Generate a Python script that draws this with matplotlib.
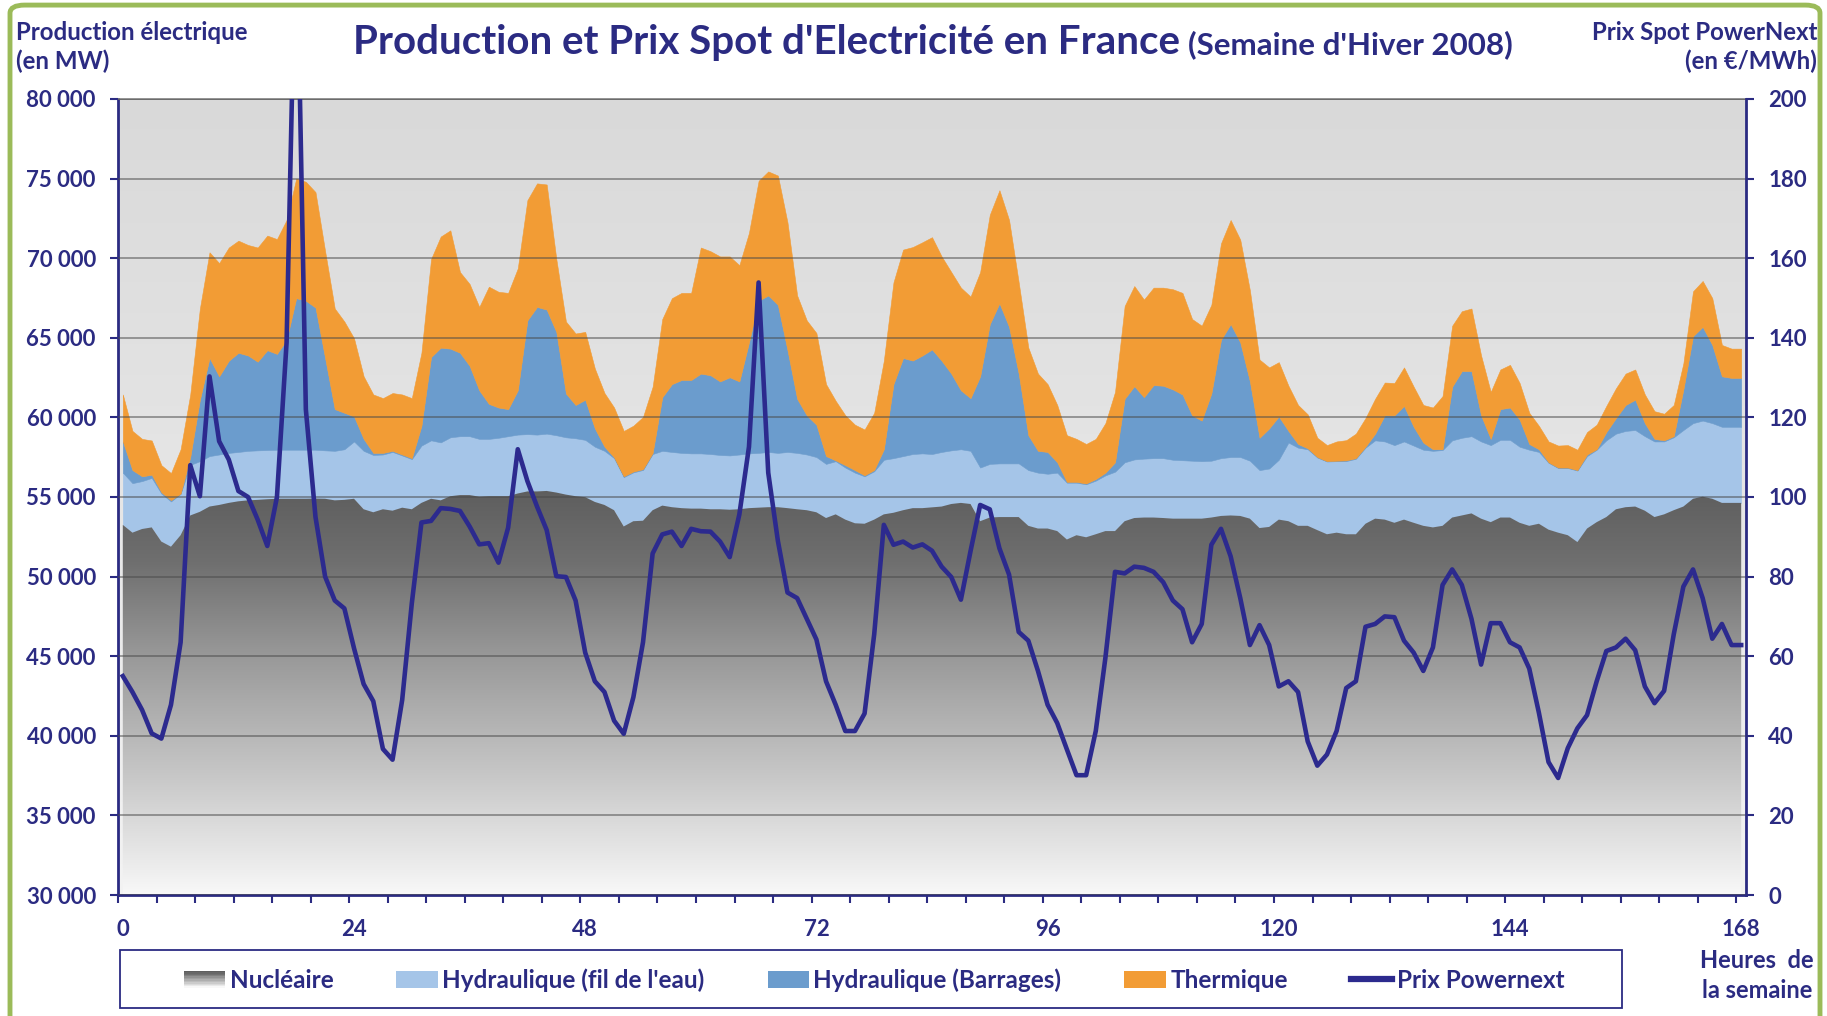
import numpy as np
import matplotlib
matplotlib.use("Agg")
import matplotlib.pyplot as plt
from matplotlib.colors import LinearSegmentedColormap
from matplotlib.patches import Rectangle, Patch, FancyBboxPatch
from matplotlib.lines import Line2D
from matplotlib.legend_handler import HandlerBase

# Production horaire (MW) par filière, semaine d'hiver 2008 (heures 0 à 168)
nucleaire = [
    53250, 52760, 52990, 53090, 52200, 51880, 52600, 53840, 54070, 54400,
    54500, 54630, 54730, 54790, 54820, 54860, 54890, 54890, 54890, 54890,
    54900, 54890, 54790, 54820, 54890, 54230, 54040, 54230, 54140, 54330,
    54230, 54630, 54890, 54790, 55050, 55120, 55120, 55020, 55050, 55050,
    55050, 55220, 55350, 55350, 55380, 55280, 55150, 55050, 54990, 54690,
    54500, 54170, 53150, 53480, 53510, 54170, 54460, 54360, 54300, 54270,
    54270, 54230, 54230, 54200, 54230, 54300, 54330, 54360, 54360, 54300,
    54230, 54170, 54040, 53680, 53910, 53580, 53350, 53320, 53580, 53910,
    54010, 54170, 54300, 54300, 54350, 54400, 54560, 54630, 54560, 53480,
    53710, 53740, 53740, 53740, 53190, 53020, 53020, 52860, 52330, 52600,
    52470, 52660, 52860, 52860, 53480, 53680, 53710, 53710, 53680, 53640,
    53640, 53640, 53640, 53710, 53810, 53840, 53810, 53640, 53050, 53120,
    53580, 53480, 53190, 53190, 52920, 52660, 52760, 52660, 52660, 53320,
    53640, 53580, 53380, 53580, 53380, 53190, 53090, 53190, 53710, 53840,
    53970, 53640, 53420, 53710, 53710, 53380, 53190, 53320, 52950, 52760,
    52600, 52170, 53020, 53420, 53740, 54230, 54360, 54400, 54140, 53740,
    53910, 54170, 54400, 54890, 55020, 54890, 54630, 54630, 54630,
]
fil_de_l_eau = [
    3280, 3110, 3010, 3110, 3020, 2840, 2600, 3180, 3180, 3170,
    3170, 3140, 3100, 3110, 3110, 3090, 3080, 3080, 3080, 3080,
    3070, 3040, 3110, 3180, 3600, 3670, 3600, 3440, 3690, 3280,
    3150, 3600, 3670, 3640, 3700, 3700, 3700, 3630, 3600, 3670,
    3770, 3700, 3600, 3570, 3600, 3600, 3600, 3640, 3600, 3470,
    3400, 3270, 3100, 3070, 3190, 3530, 3440, 3470, 3470, 3470,
    3470, 3470, 3410, 3410, 3440, 3440, 3440, 3470, 3410, 3530,
    3540, 3500, 3470, 3400, 3340, 3270, 3180, 2980, 3040, 3430,
    3430, 3400, 3400, 3440, 3350, 3430, 3370, 3370, 3340, 3370,
    3370, 3370, 3370, 3370, 3500, 3510, 3440, 3670, 3570, 3300,
    3330, 3370, 3500, 3730, 3700, 3680, 3700, 3730, 3760, 3700,
    3670, 3640, 3610, 3570, 3630, 3670, 3700, 3640, 3640, 3670,
    3760, 4940, 4910, 4810, 4560, 4570, 4490, 4600, 4740, 4780,
    4920, 4910, 4880, 4910, 4850, 4780, 4810, 4760, 4850, 4880,
    4850, 4850, 4840, 4880, 4880, 4780, 4780, 4510, 4200, 4060,
    4220, 4490, 4550, 4550, 4820, 4750, 4790, 4810, 4680, 4750,
    4580, 4580, 4810, 4750, 4780, 4750, 4780, 4780, 4780,
]
barrages = [
    1960, 820, 300, 200, 80, 80, 20, 490, 3860, 6160,
    4910, 5790, 6230, 5990, 5570, 6270, 6020, 6900, 9520, 9360,
    8930, 5800, 2620, 2290, 1570, 750, 130, 100, 70, 60,
    60, 1240, 5230, 5950, 5570, 5240, 4420, 3050, 2200, 1900,
    1700, 2780, 7150, 8020, 7790, 6490, 2750, 2090, 2520, 1150,
    260, 50, 50, 50, 50, 70, 3370, 4260, 4580, 4610,
    5010, 4950, 4620, 4910, 4590, 6970, 9560, 9830, 9300, 6390,
    3400, 2460, 2030, 490, 50, 150, 160, 60, 80, 660,
    4650, 6160, 5870, 6150, 6570, 5730, 4820, 3700, 3310, 5730,
    8780, 10060, 8580, 5640, 2190, 1370, 1370, 650, 50, 50,
    50, 100, 170, 590, 3990, 4600, 3860, 4590, 4550, 4420,
    4130, 2850, 2550, 4220, 7430, 8350, 7200, 4980, 2030, 2520,
    2720, 730, 230, 60, 30, 20, 30, 40, 40, 60,
    420, 1640, 1870, 2230, 1180, 450, 100, 50, 3370, 4190,
    4090, 1640, 390, 1930, 2030, 1700, 360, 170, 30, 30,
    30, 30, 100, 30, 520, 980, 1630, 1900, 820, 160,
    70, 70, 2550, 5460, 5890, 4910, 3170, 3070, 3070,
]
thermique = [
    2950, 2460, 2350, 2150, 1700, 1700, 2780, 3930, 5730, 6640,
    7110, 7110, 7040, 6940, 7170, 7200, 7210, 7530, 7510, 7470,
    7250, 6710, 6320, 5730, 4910, 3930, 3670, 3440, 3630, 3770,
    3770, 4590, 6160, 6980, 7430, 5070, 5140, 5240, 7360, 7270,
    7300, 7660, 7550, 7760, 7860, 4580, 4520, 4490, 4260, 3760,
    3370, 3130, 2850, 2880, 3280, 4160, 4910, 5400, 5470, 5470,
    7920, 7790, 7850, 7590, 7300, 6880, 7530, 7790, 8120, 8020,
    6490, 5960, 5760, 4520, 3740, 3130, 2850, 2880, 3590, 5560,
    6390, 6810, 7130, 7110, 7050, 6550, 6380, 6450, 6380, 6550,
    6870, 7100, 6710, 5730, 5500, 4850, 4260, 3600, 2930, 2700,
    2480, 2520, 3110, 4420, 5830, 6290, 6130, 6120, 6160, 6290,
    6380, 6050, 5960, 5570, 6060, 6540, 6450, 5720, 4910, 3830,
    3410, 2840, 2450, 2130, 1210, 1010, 1210, 1270, 1540, 1800,
    2190, 2060, 2030, 2420, 2520, 2360, 2620, 3340, 3830, 3760,
    3930, 3760, 2950, 2490, 2680, 2300, 1960, 1470, 1310, 1380,
    1410, 1280, 1410, 1540, 1640, 1870, 1970, 1900, 1800, 1740,
    1670, 1960, 1640, 2820, 2880, 2940, 1970, 1840, 1840,
]
# Prix spot Powernext (EUR/MWh)
prix_powernext = [
    55.0, 51.0, 46.5, 40.6, 39.3, 47.8, 63.5, 108.0, 100.2, 130.3,
    114.0, 109.4, 101.5, 100.0, 94.3, 87.7, 100.0, 138.8, 250.0, 122.0,
    95.0, 80.0, 74.0, 72.0, 62.0, 53.0, 48.7, 36.7, 34.0, 49.0,
    73.3, 93.6, 94.0, 97.2, 97.0, 96.5, 92.6, 88.1, 88.4, 83.5,
    92.3, 112.0, 104.0, 97.6, 91.7, 80.1, 79.9, 74.0, 60.9, 53.7,
    51.0, 43.8, 40.5, 49.7, 63.5, 85.8, 90.6, 91.3, 87.7, 92.0,
    91.4, 91.3, 88.8, 84.9, 95.6, 112.6, 153.9, 106.1, 89.0, 76.0,
    74.6, 69.4, 64.2, 53.7, 47.8, 41.2, 41.2, 45.6, 65.5, 93.0,
    88.0, 88.8, 87.3, 88.1, 86.5, 82.5, 79.9, 74.2, 86.4, 98.0,
    96.9, 87.1, 80.5, 66.1, 63.9, 56.3, 47.8, 43.2, 36.6, 30.1,
    30.1, 41.2, 59.6, 81.2, 80.8, 82.5, 82.2, 81.2, 78.6, 74.0,
    71.8, 63.5, 68.1, 88.0, 92.0, 85.1, 74.6, 62.8, 67.8, 62.8,
    52.4, 53.7, 51.0, 38.6, 32.5, 35.3, 41.2, 52.0, 53.7, 67.4,
    68.1, 70.0, 69.8, 63.9, 60.9, 56.3, 62.2, 77.9, 81.8, 77.9,
    69.4, 57.9, 68.3, 68.3, 63.5, 62.2, 56.9, 45.8, 33.4, 29.4,
    36.9, 41.9, 45.2, 53.7, 61.3, 62.2, 64.4, 61.5, 52.4, 48.2,
    51.3, 65.5, 77.5, 81.8, 74.6, 64.4, 68.1, 62.8, 62.8,
]

labels = ["Nucléaire", "Hydraulique (fil de l'eau)", "Hydraulique (Barrages)",
          "Thermique", "Prix Powernext"]
mw_ticks = np.arange(30000, 80001, 5000)
prix_ticks = np.arange(0, 201, 20)
heures_ticks = np.arange(0, 169, 24)

NAVY = "#2B2B82"
C_FIL = "#A5C5E8"
C_BARR = "#6B9CCD"
C_THERM = "#F29C35"
C_PRIX = "#2C2A8E"
cmap_nuc = LinearSegmentedColormap.from_list(
    "nuc", [(0.0, "#F8F8F8"), (0.3, "#C6C6C6"), (0.6, "#979797"),
            (0.82, "#6F6F6F"), (1.0, "#5E5E5E")])
cmap_fond = LinearSegmentedColormap.from_list("fond", ["#F3F3F3", "#D9D9D9"])


class DegradeHandler(HandlerBase):
    """Legend key drawn as a vertical grey gradient (nuclear)."""

    def create_artists(self, legend, orig_handle, xdescent, ydescent,
                       width, height, fontsize, trans):
        n = 12
        bandes = []
        for i in range(n):
            bandes.append(Rectangle((-xdescent, -ydescent + i * height / n),
                                    width, height / n + 0.2,
                                    facecolor=cmap_nuc(i / (n - 1)),
                                    edgecolor="none", transform=trans))
        return bandes


plt.rcParams["font.family"] = ["Lato", "DejaVu Sans"]
plt.rcParams["font.weight"] = "bold"

W, H = 1827, 1016
fig = plt.figure(figsize=(W / 100, H / 100), dpi=100)
ax = fig.add_axes([118 / W, 1 - 895 / H, 1628 / W, 796 / H])

x = np.arange(len(nucleaire)) + 0.5
xmax = len(nucleaire)

# background gradient of the plot area
ax.imshow(np.linspace(0, 1, 256).reshape(-1, 1), cmap=cmap_fond, origin="lower",
          extent=(0, xmax, 30000, 80000), aspect="auto", zorder=0)

polys = ax.stackplot(x, nucleaire, fil_de_l_eau, barrages, thermique,
                     colors=["none", C_FIL, C_BARR, C_THERM],
                     edgecolor="face", linewidth=0.4, zorder=1)
polys[0].set_edgecolor("none")
grad = ax.imshow(np.linspace(0, 1, 256).reshape(-1, 1), cmap=cmap_nuc, origin="lower",
                 extent=(0, xmax, 30000, 55500), aspect="auto", zorder=1)
grad.set_clip_path(polys[0].get_paths()[0], transform=ax.transData)

ax.set_xlim(0, xmax)
ax.set_ylim(30000, 80000)
ax.set_yticks(mw_ticks)
ax.set_yticklabels([f"{v:,}".replace(",", " ") for v in mw_ticks])
ax.set_xticks(heures_ticks + 0.5)
ax.set_xticklabels([str(h) for h in heures_ticks])
ax.set_xticks(np.arange(0, 169, 4), minor=True)
ax.set_axisbelow(False)
ax.yaxis.grid(True, color="#4A4A4A", lw=1.3, alpha=0.55)
ax.xaxis.grid(False)

ax.tick_params(axis="y", direction="out", length=6, width=1.5, color=NAVY,
               labelcolor=NAVY, labelsize=16, pad=10)
ax.tick_params(axis="x", which="major", length=0, labelcolor=NAVY,
               labelsize=16, pad=17)
ax.tick_params(axis="x", which="minor", direction="out", length=6, width=1.5,
               color=NAVY)
for s in ("left", "bottom"):
    ax.spines[s].set_color(NAVY)
    ax.spines[s].set_linewidth(2)
ax.spines["right"].set_visible(False)
ax.spines["top"].set_color("#808080")
ax.spines["top"].set_linewidth(1.2)

ax2 = ax.twinx()
ax2.plot(x, prix_powernext, color=C_PRIX, lw=3.3, solid_joinstyle="round")
ax2.set_xlim(0, xmax)
ax2.set_ylim(0, 200)
ax2.set_yticks(prix_ticks)
ax2.tick_params(axis="y", direction="out", length=6, width=1.5, color=NAVY,
                labelcolor=NAVY, labelsize=16, pad=10)
for s in ("left", "top", "bottom"):
    ax2.spines[s].set_visible(False)
ax2.spines["right"].set_color(NAVY)
ax2.spines["right"].set_linewidth(2)

# titles and axis captions
fig.text(353 / W, 1 - 54 / H, "Production et Prix Spot d'Electricité en France",
         ha="left", va="baseline", fontsize=29, color=NAVY)
fig.text(1188 / W, 1 - 54 / H, "(Semaine d'Hiver 2008)", ha="left",
         va="baseline", fontsize=22.5, color=NAVY)
fig.text(16 / W, 1 - 32 / H, "Production électrique", ha="left", va="center",
         fontsize=17.3, color=NAVY)
fig.text(16 / W, 1 - 61 / H, "(en MW)", ha="left", va="center",
         fontsize=17.3, color=NAVY)
fig.text(1817 / W, 1 - 32 / H, "Prix Spot PowerNext", ha="right", va="center",
         fontsize=17.3, color=NAVY)
fig.text(1817 / W, 1 - 61 / H, "(en €/MWh)", ha="right", va="center",
         fontsize=17.3, color=NAVY)
fig.text(1757 / W, 1 - 960 / H, "Heures  de", ha="center", va="center",
         fontsize=17, color=NAVY)
fig.text(1757 / W, 1 - 991 / H, "la semaine", ha="center", va="center",
         fontsize=17, color=NAVY)

# legend
proxy_nuc = Rectangle((0, 0), 1, 1)
handles = [proxy_nuc, Patch(facecolor=C_FIL), Patch(facecolor=C_BARR),
           Patch(facecolor=C_THERM), Line2D([], [], color=C_PRIX, lw=4.5)]
fig.patches.append(Rectangle((120 / W, 1 - 1008 / H), 1502 / W, 58 / H,
                             transform=fig.transFigure, facecolor="white",
                             edgecolor=NAVY, lw=1.3))
fig.legend(handles, labels, loc="center", bbox_to_anchor=(874 / W, 1 - 980 / H),
           ncol=5, frameon=False, fontsize=17.5, labelcolor=NAVY,
           handlelength=1.7, handleheight=0.7, handletextpad=0.18,
           columnspacing=2.6, handler_map={proxy_nuc: DegradeHandler()})

# outer green frame
fig.patches.append(FancyBboxPatch((10 / W, -0.05), 1810 / W, 1.045,
                                  boxstyle="round,pad=0,rounding_size=0.008",
                                  transform=fig.transFigure, facecolor="none",
                                  edgecolor="#9BBB59", lw=3.5))

fig.savefig("out.png", dpi=100)
